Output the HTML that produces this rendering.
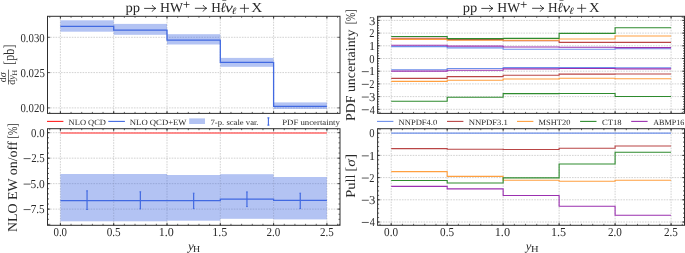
<!DOCTYPE html>
<html><head><meta charset="utf-8"><style>
html,body{margin:0;padding:0;background:#fff;width:685px;height:253px;overflow:hidden;}
svg{display:block;will-change:transform;}
text{font-family:"Liberation Serif", serif;}
svg{text-rendering:geometricPrecision;}
</style></head><body>
<svg width="685" height="253" viewBox="0 0 685 253" font-family='"Liberation Serif", serif' fill="#2a2a2a">
<rect width="685" height="253" fill="#fff"/>
<line x1="60.4" y1="16.3" x2="60.4" y2="113.4" stroke="#b4b4b4" stroke-width="0.6" stroke-dasharray="1.6 1.1"/>
<line x1="113.7" y1="16.3" x2="113.7" y2="113.4" stroke="#b4b4b4" stroke-width="0.6" stroke-dasharray="1.6 1.1"/>
<line x1="167" y1="16.3" x2="167" y2="113.4" stroke="#b4b4b4" stroke-width="0.6" stroke-dasharray="1.6 1.1"/>
<line x1="220.3" y1="16.3" x2="220.3" y2="113.4" stroke="#b4b4b4" stroke-width="0.6" stroke-dasharray="1.6 1.1"/>
<line x1="273.6" y1="16.3" x2="273.6" y2="113.4" stroke="#b4b4b4" stroke-width="0.6" stroke-dasharray="1.6 1.1"/>
<line x1="326.9" y1="16.3" x2="326.9" y2="113.4" stroke="#b4b4b4" stroke-width="0.6" stroke-dasharray="1.6 1.1"/>
<line x1="47.5" y1="37.3" x2="340" y2="37.3" stroke="#b4b4b4" stroke-width="0.6" stroke-dasharray="1.6 1.1"/>
<line x1="47.5" y1="72.6" x2="340" y2="72.6" stroke="#b4b4b4" stroke-width="0.6" stroke-dasharray="1.6 1.1"/>
<line x1="47.5" y1="107.9" x2="340" y2="107.9" stroke="#b4b4b4" stroke-width="0.6" stroke-dasharray="1.6 1.1"/>
<rect x="60.4" y="20.3" width="53.3" height="11.4" fill="#4169e1" fill-opacity="0.4"/>
<rect x="113.7" y="23.9" width="53.3" height="10.9" fill="#4169e1" fill-opacity="0.4"/>
<rect x="167" y="34.2" width="53.3" height="10.3" fill="#4169e1" fill-opacity="0.4"/>
<rect x="220.3" y="57.9" width="53.3" height="8.9" fill="#4169e1" fill-opacity="0.4"/>
<rect x="273.6" y="102.4" width="53.3" height="6.6" fill="#4169e1" fill-opacity="0.4"/>
<polyline points="60.4,26.4 113.7,26.4 113.7,30.2 167,30.2 167,40.1 220.3,40.1 220.3,62.4 273.6,62.4 273.6,106.3 326.9,106.3" fill="none" stroke="#4169e1" stroke-width="1.3" stroke-linejoin="miter" />
<line x1="60.4" y1="113.4" x2="60.4" y2="110.8" stroke="#222" stroke-width="0.7" />
<line x1="60.4" y1="16.3" x2="60.4" y2="18.9" stroke="#222" stroke-width="0.7" />
<line x1="113.7" y1="113.4" x2="113.7" y2="110.8" stroke="#222" stroke-width="0.7" />
<line x1="113.7" y1="16.3" x2="113.7" y2="18.9" stroke="#222" stroke-width="0.7" />
<line x1="167" y1="113.4" x2="167" y2="110.8" stroke="#222" stroke-width="0.7" />
<line x1="167" y1="16.3" x2="167" y2="18.9" stroke="#222" stroke-width="0.7" />
<line x1="220.3" y1="113.4" x2="220.3" y2="110.8" stroke="#222" stroke-width="0.7" />
<line x1="220.3" y1="16.3" x2="220.3" y2="18.9" stroke="#222" stroke-width="0.7" />
<line x1="273.6" y1="113.4" x2="273.6" y2="110.8" stroke="#222" stroke-width="0.7" />
<line x1="273.6" y1="16.3" x2="273.6" y2="18.9" stroke="#222" stroke-width="0.7" />
<line x1="326.9" y1="113.4" x2="326.9" y2="110.8" stroke="#222" stroke-width="0.7" />
<line x1="326.9" y1="16.3" x2="326.9" y2="18.9" stroke="#222" stroke-width="0.7" />
<line x1="49.74" y1="113.4" x2="49.74" y2="111.9" stroke="#222" stroke-width="0.7" />
<line x1="49.74" y1="16.3" x2="49.74" y2="17.8" stroke="#222" stroke-width="0.7" />
<line x1="60.4" y1="113.4" x2="60.4" y2="111.9" stroke="#222" stroke-width="0.7" />
<line x1="60.4" y1="16.3" x2="60.4" y2="17.8" stroke="#222" stroke-width="0.7" />
<line x1="71.06" y1="113.4" x2="71.06" y2="111.9" stroke="#222" stroke-width="0.7" />
<line x1="71.06" y1="16.3" x2="71.06" y2="17.8" stroke="#222" stroke-width="0.7" />
<line x1="81.72" y1="113.4" x2="81.72" y2="111.9" stroke="#222" stroke-width="0.7" />
<line x1="81.72" y1="16.3" x2="81.72" y2="17.8" stroke="#222" stroke-width="0.7" />
<line x1="92.38" y1="113.4" x2="92.38" y2="111.9" stroke="#222" stroke-width="0.7" />
<line x1="92.38" y1="16.3" x2="92.38" y2="17.8" stroke="#222" stroke-width="0.7" />
<line x1="103.04" y1="113.4" x2="103.04" y2="111.9" stroke="#222" stroke-width="0.7" />
<line x1="103.04" y1="16.3" x2="103.04" y2="17.8" stroke="#222" stroke-width="0.7" />
<line x1="113.7" y1="113.4" x2="113.7" y2="111.9" stroke="#222" stroke-width="0.7" />
<line x1="113.7" y1="16.3" x2="113.7" y2="17.8" stroke="#222" stroke-width="0.7" />
<line x1="124.36" y1="113.4" x2="124.36" y2="111.9" stroke="#222" stroke-width="0.7" />
<line x1="124.36" y1="16.3" x2="124.36" y2="17.8" stroke="#222" stroke-width="0.7" />
<line x1="135.02" y1="113.4" x2="135.02" y2="111.9" stroke="#222" stroke-width="0.7" />
<line x1="135.02" y1="16.3" x2="135.02" y2="17.8" stroke="#222" stroke-width="0.7" />
<line x1="145.68" y1="113.4" x2="145.68" y2="111.9" stroke="#222" stroke-width="0.7" />
<line x1="145.68" y1="16.3" x2="145.68" y2="17.8" stroke="#222" stroke-width="0.7" />
<line x1="156.34" y1="113.4" x2="156.34" y2="111.9" stroke="#222" stroke-width="0.7" />
<line x1="156.34" y1="16.3" x2="156.34" y2="17.8" stroke="#222" stroke-width="0.7" />
<line x1="167" y1="113.4" x2="167" y2="111.9" stroke="#222" stroke-width="0.7" />
<line x1="167" y1="16.3" x2="167" y2="17.8" stroke="#222" stroke-width="0.7" />
<line x1="177.66" y1="113.4" x2="177.66" y2="111.9" stroke="#222" stroke-width="0.7" />
<line x1="177.66" y1="16.3" x2="177.66" y2="17.8" stroke="#222" stroke-width="0.7" />
<line x1="188.32" y1="113.4" x2="188.32" y2="111.9" stroke="#222" stroke-width="0.7" />
<line x1="188.32" y1="16.3" x2="188.32" y2="17.8" stroke="#222" stroke-width="0.7" />
<line x1="198.98" y1="113.4" x2="198.98" y2="111.9" stroke="#222" stroke-width="0.7" />
<line x1="198.98" y1="16.3" x2="198.98" y2="17.8" stroke="#222" stroke-width="0.7" />
<line x1="209.64" y1="113.4" x2="209.64" y2="111.9" stroke="#222" stroke-width="0.7" />
<line x1="209.64" y1="16.3" x2="209.64" y2="17.8" stroke="#222" stroke-width="0.7" />
<line x1="220.3" y1="113.4" x2="220.3" y2="111.9" stroke="#222" stroke-width="0.7" />
<line x1="220.3" y1="16.3" x2="220.3" y2="17.8" stroke="#222" stroke-width="0.7" />
<line x1="230.96" y1="113.4" x2="230.96" y2="111.9" stroke="#222" stroke-width="0.7" />
<line x1="230.96" y1="16.3" x2="230.96" y2="17.8" stroke="#222" stroke-width="0.7" />
<line x1="241.62" y1="113.4" x2="241.62" y2="111.9" stroke="#222" stroke-width="0.7" />
<line x1="241.62" y1="16.3" x2="241.62" y2="17.8" stroke="#222" stroke-width="0.7" />
<line x1="252.28" y1="113.4" x2="252.28" y2="111.9" stroke="#222" stroke-width="0.7" />
<line x1="252.28" y1="16.3" x2="252.28" y2="17.8" stroke="#222" stroke-width="0.7" />
<line x1="262.94" y1="113.4" x2="262.94" y2="111.9" stroke="#222" stroke-width="0.7" />
<line x1="262.94" y1="16.3" x2="262.94" y2="17.8" stroke="#222" stroke-width="0.7" />
<line x1="273.6" y1="113.4" x2="273.6" y2="111.9" stroke="#222" stroke-width="0.7" />
<line x1="273.6" y1="16.3" x2="273.6" y2="17.8" stroke="#222" stroke-width="0.7" />
<line x1="284.26" y1="113.4" x2="284.26" y2="111.9" stroke="#222" stroke-width="0.7" />
<line x1="284.26" y1="16.3" x2="284.26" y2="17.8" stroke="#222" stroke-width="0.7" />
<line x1="294.92" y1="113.4" x2="294.92" y2="111.9" stroke="#222" stroke-width="0.7" />
<line x1="294.92" y1="16.3" x2="294.92" y2="17.8" stroke="#222" stroke-width="0.7" />
<line x1="305.58" y1="113.4" x2="305.58" y2="111.9" stroke="#222" stroke-width="0.7" />
<line x1="305.58" y1="16.3" x2="305.58" y2="17.8" stroke="#222" stroke-width="0.7" />
<line x1="316.24" y1="113.4" x2="316.24" y2="111.9" stroke="#222" stroke-width="0.7" />
<line x1="316.24" y1="16.3" x2="316.24" y2="17.8" stroke="#222" stroke-width="0.7" />
<line x1="326.9" y1="113.4" x2="326.9" y2="111.9" stroke="#222" stroke-width="0.7" />
<line x1="326.9" y1="16.3" x2="326.9" y2="17.8" stroke="#222" stroke-width="0.7" />
<line x1="337.56" y1="113.4" x2="337.56" y2="111.9" stroke="#222" stroke-width="0.7" />
<line x1="337.56" y1="16.3" x2="337.56" y2="17.8" stroke="#222" stroke-width="0.7" />
<line x1="47.5" y1="37.3" x2="50.1" y2="37.3" stroke="#222" stroke-width="0.7" />
<line x1="340" y1="37.3" x2="337.4" y2="37.3" stroke="#222" stroke-width="0.7" />
<line x1="47.5" y1="72.6" x2="50.1" y2="72.6" stroke="#222" stroke-width="0.7" />
<line x1="340" y1="72.6" x2="337.4" y2="72.6" stroke="#222" stroke-width="0.7" />
<line x1="47.5" y1="107.9" x2="50.1" y2="107.9" stroke="#222" stroke-width="0.7" />
<line x1="340" y1="107.9" x2="337.4" y2="107.9" stroke="#222" stroke-width="0.7" />
<rect x="47.5" y="16.3" width="292.5" height="97.1" fill="none" stroke="#2e2e2e" stroke-width="1.0"/>
<line x1="60.4" y1="128.7" x2="60.4" y2="225.3" stroke="#b4b4b4" stroke-width="0.6" stroke-dasharray="1.6 1.1"/>
<line x1="113.7" y1="128.7" x2="113.7" y2="225.3" stroke="#b4b4b4" stroke-width="0.6" stroke-dasharray="1.6 1.1"/>
<line x1="167" y1="128.7" x2="167" y2="225.3" stroke="#b4b4b4" stroke-width="0.6" stroke-dasharray="1.6 1.1"/>
<line x1="220.3" y1="128.7" x2="220.3" y2="225.3" stroke="#b4b4b4" stroke-width="0.6" stroke-dasharray="1.6 1.1"/>
<line x1="273.6" y1="128.7" x2="273.6" y2="225.3" stroke="#b4b4b4" stroke-width="0.6" stroke-dasharray="1.6 1.1"/>
<line x1="326.9" y1="128.7" x2="326.9" y2="225.3" stroke="#b4b4b4" stroke-width="0.6" stroke-dasharray="1.6 1.1"/>
<line x1="47.5" y1="132.7" x2="340" y2="132.7" stroke="#b4b4b4" stroke-width="0.6" stroke-dasharray="1.6 1.1"/>
<line x1="47.5" y1="158.17" x2="340" y2="158.17" stroke="#b4b4b4" stroke-width="0.6" stroke-dasharray="1.6 1.1"/>
<line x1="47.5" y1="183.65" x2="340" y2="183.65" stroke="#b4b4b4" stroke-width="0.6" stroke-dasharray="1.6 1.1"/>
<line x1="47.5" y1="209.12" x2="340" y2="209.12" stroke="#b4b4b4" stroke-width="0.6" stroke-dasharray="1.6 1.1"/>
<rect x="60.4" y="174" width="53.3" height="47.3" fill="#4169e1" fill-opacity="0.4"/>
<rect x="113.7" y="174" width="53.3" height="47.3" fill="#4169e1" fill-opacity="0.4"/>
<rect x="167" y="175" width="53.3" height="45.7" fill="#4169e1" fill-opacity="0.4"/>
<rect x="220.3" y="174.2" width="53.3" height="44.6" fill="#4169e1" fill-opacity="0.4"/>
<rect x="273.6" y="177" width="53.3" height="42.4" fill="#4169e1" fill-opacity="0.4"/>
<line x1="60.4" y1="133" x2="326.9" y2="133" stroke="#fff" stroke-width="1.2" />
<line x1="60.4" y1="133" x2="326.9" y2="133" stroke="#ff2020" stroke-width="1.2" />
<polyline points="60.4,200.6 113.7,200.6 113.7,200.6 167,200.6 167,200.6 220.3,200.6 220.3,199.1 273.6,199.1 273.6,200.4 326.9,200.4" fill="none" stroke="#4169e1" stroke-width="1.2" stroke-linejoin="miter" />
<line x1="87.05" y1="190.8" x2="87.05" y2="209.5" stroke="#4169e1" stroke-width="1.2" />
<line x1="86.25" y1="190.8" x2="87.85" y2="190.8" stroke="#4169e1" stroke-width="1" />
<line x1="86.25" y1="209.5" x2="87.85" y2="209.5" stroke="#4169e1" stroke-width="1" />
<line x1="140.35" y1="191.8" x2="140.35" y2="208.9" stroke="#4169e1" stroke-width="1.2" />
<line x1="139.55" y1="191.8" x2="141.15" y2="191.8" stroke="#4169e1" stroke-width="1" />
<line x1="139.55" y1="208.9" x2="141.15" y2="208.9" stroke="#4169e1" stroke-width="1" />
<line x1="193.65" y1="193.2" x2="193.65" y2="208.6" stroke="#4169e1" stroke-width="1.2" />
<line x1="192.85" y1="193.2" x2="194.45" y2="193.2" stroke="#4169e1" stroke-width="1" />
<line x1="192.85" y1="208.6" x2="194.45" y2="208.6" stroke="#4169e1" stroke-width="1" />
<line x1="246.95" y1="191.9" x2="246.95" y2="206.6" stroke="#4169e1" stroke-width="1.2" />
<line x1="246.15" y1="191.9" x2="247.75" y2="191.9" stroke="#4169e1" stroke-width="1" />
<line x1="246.15" y1="206.6" x2="247.75" y2="206.6" stroke="#4169e1" stroke-width="1" />
<line x1="300.25" y1="193.2" x2="300.25" y2="208.6" stroke="#4169e1" stroke-width="1.2" />
<line x1="299.45" y1="193.2" x2="301.05" y2="193.2" stroke="#4169e1" stroke-width="1" />
<line x1="299.45" y1="208.6" x2="301.05" y2="208.6" stroke="#4169e1" stroke-width="1" />
<line x1="60.4" y1="225.3" x2="60.4" y2="222.7" stroke="#222" stroke-width="0.7" />
<line x1="60.4" y1="128.7" x2="60.4" y2="131.3" stroke="#222" stroke-width="0.7" />
<line x1="113.7" y1="225.3" x2="113.7" y2="222.7" stroke="#222" stroke-width="0.7" />
<line x1="113.7" y1="128.7" x2="113.7" y2="131.3" stroke="#222" stroke-width="0.7" />
<line x1="167" y1="225.3" x2="167" y2="222.7" stroke="#222" stroke-width="0.7" />
<line x1="167" y1="128.7" x2="167" y2="131.3" stroke="#222" stroke-width="0.7" />
<line x1="220.3" y1="225.3" x2="220.3" y2="222.7" stroke="#222" stroke-width="0.7" />
<line x1="220.3" y1="128.7" x2="220.3" y2="131.3" stroke="#222" stroke-width="0.7" />
<line x1="273.6" y1="225.3" x2="273.6" y2="222.7" stroke="#222" stroke-width="0.7" />
<line x1="273.6" y1="128.7" x2="273.6" y2="131.3" stroke="#222" stroke-width="0.7" />
<line x1="326.9" y1="225.3" x2="326.9" y2="222.7" stroke="#222" stroke-width="0.7" />
<line x1="326.9" y1="128.7" x2="326.9" y2="131.3" stroke="#222" stroke-width="0.7" />
<line x1="49.74" y1="225.3" x2="49.74" y2="223.8" stroke="#222" stroke-width="0.7" />
<line x1="49.74" y1="128.7" x2="49.74" y2="130.2" stroke="#222" stroke-width="0.7" />
<line x1="60.4" y1="225.3" x2="60.4" y2="223.8" stroke="#222" stroke-width="0.7" />
<line x1="60.4" y1="128.7" x2="60.4" y2="130.2" stroke="#222" stroke-width="0.7" />
<line x1="71.06" y1="225.3" x2="71.06" y2="223.8" stroke="#222" stroke-width="0.7" />
<line x1="71.06" y1="128.7" x2="71.06" y2="130.2" stroke="#222" stroke-width="0.7" />
<line x1="81.72" y1="225.3" x2="81.72" y2="223.8" stroke="#222" stroke-width="0.7" />
<line x1="81.72" y1="128.7" x2="81.72" y2="130.2" stroke="#222" stroke-width="0.7" />
<line x1="92.38" y1="225.3" x2="92.38" y2="223.8" stroke="#222" stroke-width="0.7" />
<line x1="92.38" y1="128.7" x2="92.38" y2="130.2" stroke="#222" stroke-width="0.7" />
<line x1="103.04" y1="225.3" x2="103.04" y2="223.8" stroke="#222" stroke-width="0.7" />
<line x1="103.04" y1="128.7" x2="103.04" y2="130.2" stroke="#222" stroke-width="0.7" />
<line x1="113.7" y1="225.3" x2="113.7" y2="223.8" stroke="#222" stroke-width="0.7" />
<line x1="113.7" y1="128.7" x2="113.7" y2="130.2" stroke="#222" stroke-width="0.7" />
<line x1="124.36" y1="225.3" x2="124.36" y2="223.8" stroke="#222" stroke-width="0.7" />
<line x1="124.36" y1="128.7" x2="124.36" y2="130.2" stroke="#222" stroke-width="0.7" />
<line x1="135.02" y1="225.3" x2="135.02" y2="223.8" stroke="#222" stroke-width="0.7" />
<line x1="135.02" y1="128.7" x2="135.02" y2="130.2" stroke="#222" stroke-width="0.7" />
<line x1="145.68" y1="225.3" x2="145.68" y2="223.8" stroke="#222" stroke-width="0.7" />
<line x1="145.68" y1="128.7" x2="145.68" y2="130.2" stroke="#222" stroke-width="0.7" />
<line x1="156.34" y1="225.3" x2="156.34" y2="223.8" stroke="#222" stroke-width="0.7" />
<line x1="156.34" y1="128.7" x2="156.34" y2="130.2" stroke="#222" stroke-width="0.7" />
<line x1="167" y1="225.3" x2="167" y2="223.8" stroke="#222" stroke-width="0.7" />
<line x1="167" y1="128.7" x2="167" y2="130.2" stroke="#222" stroke-width="0.7" />
<line x1="177.66" y1="225.3" x2="177.66" y2="223.8" stroke="#222" stroke-width="0.7" />
<line x1="177.66" y1="128.7" x2="177.66" y2="130.2" stroke="#222" stroke-width="0.7" />
<line x1="188.32" y1="225.3" x2="188.32" y2="223.8" stroke="#222" stroke-width="0.7" />
<line x1="188.32" y1="128.7" x2="188.32" y2="130.2" stroke="#222" stroke-width="0.7" />
<line x1="198.98" y1="225.3" x2="198.98" y2="223.8" stroke="#222" stroke-width="0.7" />
<line x1="198.98" y1="128.7" x2="198.98" y2="130.2" stroke="#222" stroke-width="0.7" />
<line x1="209.64" y1="225.3" x2="209.64" y2="223.8" stroke="#222" stroke-width="0.7" />
<line x1="209.64" y1="128.7" x2="209.64" y2="130.2" stroke="#222" stroke-width="0.7" />
<line x1="220.3" y1="225.3" x2="220.3" y2="223.8" stroke="#222" stroke-width="0.7" />
<line x1="220.3" y1="128.7" x2="220.3" y2="130.2" stroke="#222" stroke-width="0.7" />
<line x1="230.96" y1="225.3" x2="230.96" y2="223.8" stroke="#222" stroke-width="0.7" />
<line x1="230.96" y1="128.7" x2="230.96" y2="130.2" stroke="#222" stroke-width="0.7" />
<line x1="241.62" y1="225.3" x2="241.62" y2="223.8" stroke="#222" stroke-width="0.7" />
<line x1="241.62" y1="128.7" x2="241.62" y2="130.2" stroke="#222" stroke-width="0.7" />
<line x1="252.28" y1="225.3" x2="252.28" y2="223.8" stroke="#222" stroke-width="0.7" />
<line x1="252.28" y1="128.7" x2="252.28" y2="130.2" stroke="#222" stroke-width="0.7" />
<line x1="262.94" y1="225.3" x2="262.94" y2="223.8" stroke="#222" stroke-width="0.7" />
<line x1="262.94" y1="128.7" x2="262.94" y2="130.2" stroke="#222" stroke-width="0.7" />
<line x1="273.6" y1="225.3" x2="273.6" y2="223.8" stroke="#222" stroke-width="0.7" />
<line x1="273.6" y1="128.7" x2="273.6" y2="130.2" stroke="#222" stroke-width="0.7" />
<line x1="284.26" y1="225.3" x2="284.26" y2="223.8" stroke="#222" stroke-width="0.7" />
<line x1="284.26" y1="128.7" x2="284.26" y2="130.2" stroke="#222" stroke-width="0.7" />
<line x1="294.92" y1="225.3" x2="294.92" y2="223.8" stroke="#222" stroke-width="0.7" />
<line x1="294.92" y1="128.7" x2="294.92" y2="130.2" stroke="#222" stroke-width="0.7" />
<line x1="305.58" y1="225.3" x2="305.58" y2="223.8" stroke="#222" stroke-width="0.7" />
<line x1="305.58" y1="128.7" x2="305.58" y2="130.2" stroke="#222" stroke-width="0.7" />
<line x1="316.24" y1="225.3" x2="316.24" y2="223.8" stroke="#222" stroke-width="0.7" />
<line x1="316.24" y1="128.7" x2="316.24" y2="130.2" stroke="#222" stroke-width="0.7" />
<line x1="326.9" y1="225.3" x2="326.9" y2="223.8" stroke="#222" stroke-width="0.7" />
<line x1="326.9" y1="128.7" x2="326.9" y2="130.2" stroke="#222" stroke-width="0.7" />
<line x1="337.56" y1="225.3" x2="337.56" y2="223.8" stroke="#222" stroke-width="0.7" />
<line x1="337.56" y1="128.7" x2="337.56" y2="130.2" stroke="#222" stroke-width="0.7" />
<line x1="47.5" y1="132.7" x2="50.1" y2="132.7" stroke="#222" stroke-width="0.7" />
<line x1="340" y1="132.7" x2="337.4" y2="132.7" stroke="#222" stroke-width="0.7" />
<line x1="47.5" y1="158.17" x2="50.1" y2="158.17" stroke="#222" stroke-width="0.7" />
<line x1="340" y1="158.17" x2="337.4" y2="158.17" stroke="#222" stroke-width="0.7" />
<line x1="47.5" y1="183.65" x2="50.1" y2="183.65" stroke="#222" stroke-width="0.7" />
<line x1="340" y1="183.65" x2="337.4" y2="183.65" stroke="#222" stroke-width="0.7" />
<line x1="47.5" y1="209.12" x2="50.1" y2="209.12" stroke="#222" stroke-width="0.7" />
<line x1="340" y1="209.12" x2="337.4" y2="209.12" stroke="#222" stroke-width="0.7" />
<line x1="47.5" y1="132.7" x2="49" y2="132.7" stroke="#222" stroke-width="0.7" />
<line x1="340" y1="132.7" x2="338.5" y2="132.7" stroke="#222" stroke-width="0.7" />
<line x1="47.5" y1="137.79" x2="49" y2="137.79" stroke="#222" stroke-width="0.7" />
<line x1="340" y1="137.79" x2="338.5" y2="137.79" stroke="#222" stroke-width="0.7" />
<line x1="47.5" y1="142.89" x2="49" y2="142.89" stroke="#222" stroke-width="0.7" />
<line x1="340" y1="142.89" x2="338.5" y2="142.89" stroke="#222" stroke-width="0.7" />
<line x1="47.5" y1="147.98" x2="49" y2="147.98" stroke="#222" stroke-width="0.7" />
<line x1="340" y1="147.98" x2="338.5" y2="147.98" stroke="#222" stroke-width="0.7" />
<line x1="47.5" y1="153.08" x2="49" y2="153.08" stroke="#222" stroke-width="0.7" />
<line x1="340" y1="153.08" x2="338.5" y2="153.08" stroke="#222" stroke-width="0.7" />
<line x1="47.5" y1="158.17" x2="49" y2="158.17" stroke="#222" stroke-width="0.7" />
<line x1="340" y1="158.17" x2="338.5" y2="158.17" stroke="#222" stroke-width="0.7" />
<line x1="47.5" y1="163.27" x2="49" y2="163.27" stroke="#222" stroke-width="0.7" />
<line x1="340" y1="163.27" x2="338.5" y2="163.27" stroke="#222" stroke-width="0.7" />
<line x1="47.5" y1="168.36" x2="49" y2="168.36" stroke="#222" stroke-width="0.7" />
<line x1="340" y1="168.36" x2="338.5" y2="168.36" stroke="#222" stroke-width="0.7" />
<line x1="47.5" y1="173.46" x2="49" y2="173.46" stroke="#222" stroke-width="0.7" />
<line x1="340" y1="173.46" x2="338.5" y2="173.46" stroke="#222" stroke-width="0.7" />
<line x1="47.5" y1="178.55" x2="49" y2="178.55" stroke="#222" stroke-width="0.7" />
<line x1="340" y1="178.55" x2="338.5" y2="178.55" stroke="#222" stroke-width="0.7" />
<line x1="47.5" y1="183.65" x2="49" y2="183.65" stroke="#222" stroke-width="0.7" />
<line x1="340" y1="183.65" x2="338.5" y2="183.65" stroke="#222" stroke-width="0.7" />
<line x1="47.5" y1="188.74" x2="49" y2="188.74" stroke="#222" stroke-width="0.7" />
<line x1="340" y1="188.74" x2="338.5" y2="188.74" stroke="#222" stroke-width="0.7" />
<line x1="47.5" y1="193.84" x2="49" y2="193.84" stroke="#222" stroke-width="0.7" />
<line x1="340" y1="193.84" x2="338.5" y2="193.84" stroke="#222" stroke-width="0.7" />
<line x1="47.5" y1="198.94" x2="49" y2="198.94" stroke="#222" stroke-width="0.7" />
<line x1="340" y1="198.94" x2="338.5" y2="198.94" stroke="#222" stroke-width="0.7" />
<line x1="47.5" y1="204.03" x2="49" y2="204.03" stroke="#222" stroke-width="0.7" />
<line x1="340" y1="204.03" x2="338.5" y2="204.03" stroke="#222" stroke-width="0.7" />
<line x1="47.5" y1="209.12" x2="49" y2="209.12" stroke="#222" stroke-width="0.7" />
<line x1="340" y1="209.12" x2="338.5" y2="209.12" stroke="#222" stroke-width="0.7" />
<line x1="47.5" y1="214.22" x2="49" y2="214.22" stroke="#222" stroke-width="0.7" />
<line x1="340" y1="214.22" x2="338.5" y2="214.22" stroke="#222" stroke-width="0.7" />
<line x1="47.5" y1="219.31" x2="49" y2="219.31" stroke="#222" stroke-width="0.7" />
<line x1="340" y1="219.31" x2="338.5" y2="219.31" stroke="#222" stroke-width="0.7" />
<line x1="47.5" y1="224.41" x2="49" y2="224.41" stroke="#222" stroke-width="0.7" />
<line x1="340" y1="224.41" x2="338.5" y2="224.41" stroke="#222" stroke-width="0.7" />
<rect x="47.5" y="128.7" width="292.5" height="96.6" fill="none" stroke="#2e2e2e" stroke-width="1.0"/>
<line x1="391.2" y1="16.3" x2="391.2" y2="113.4" stroke="#b4b4b4" stroke-width="0.6" stroke-dasharray="1.6 1.1"/>
<line x1="447.18" y1="16.3" x2="447.18" y2="113.4" stroke="#b4b4b4" stroke-width="0.6" stroke-dasharray="1.6 1.1"/>
<line x1="503.15" y1="16.3" x2="503.15" y2="113.4" stroke="#b4b4b4" stroke-width="0.6" stroke-dasharray="1.6 1.1"/>
<line x1="559.12" y1="16.3" x2="559.12" y2="113.4" stroke="#b4b4b4" stroke-width="0.6" stroke-dasharray="1.6 1.1"/>
<line x1="615.1" y1="16.3" x2="615.1" y2="113.4" stroke="#b4b4b4" stroke-width="0.6" stroke-dasharray="1.6 1.1"/>
<line x1="671.08" y1="16.3" x2="671.08" y2="113.4" stroke="#b4b4b4" stroke-width="0.6" stroke-dasharray="1.6 1.1"/>
<line x1="377.6" y1="20.4" x2="684.5" y2="20.4" stroke="#b4b4b4" stroke-width="0.6" stroke-dasharray="1.6 1.1"/>
<line x1="377.6" y1="33.1" x2="684.5" y2="33.1" stroke="#b4b4b4" stroke-width="0.6" stroke-dasharray="1.6 1.1"/>
<line x1="377.6" y1="45.8" x2="684.5" y2="45.8" stroke="#b4b4b4" stroke-width="0.6" stroke-dasharray="1.6 1.1"/>
<line x1="377.6" y1="58.5" x2="684.5" y2="58.5" stroke="#b4b4b4" stroke-width="0.6" stroke-dasharray="1.6 1.1"/>
<line x1="377.6" y1="71.2" x2="684.5" y2="71.2" stroke="#b4b4b4" stroke-width="0.6" stroke-dasharray="1.6 1.1"/>
<line x1="377.6" y1="83.9" x2="684.5" y2="83.9" stroke="#b4b4b4" stroke-width="0.6" stroke-dasharray="1.6 1.1"/>
<line x1="377.6" y1="96.6" x2="684.5" y2="96.6" stroke="#b4b4b4" stroke-width="0.6" stroke-dasharray="1.6 1.1"/>
<line x1="377.6" y1="109.3" x2="684.5" y2="109.3" stroke="#b4b4b4" stroke-width="0.6" stroke-dasharray="1.6 1.1"/>
<polyline points="391.2,46.6 447.18,46.6 447.18,47.9 503.15,47.9 503.15,49.3 559.12,49.3 559.12,49.3 615.1,49.3 615.1,48.7 671.08,48.7" fill="none" stroke="#6d8fea" stroke-width="1.1" stroke-linejoin="miter" />
<polyline points="391.2,69.7 447.18,69.7 447.18,68.5 503.15,68.5 503.15,67.6 559.12,67.6 559.12,67.6 615.1,67.6 615.1,67.7 671.08,67.7" fill="none" stroke="#6d8fea" stroke-width="1.1" stroke-linejoin="miter" />
<polyline points="391.2,38.3 447.18,38.3 447.18,39.6 503.15,39.6 503.15,40.8 559.12,40.8 559.12,42.4 615.1,42.4 615.1,42.4 671.08,42.4" fill="none" stroke="#b94545" stroke-width="1.1" stroke-linejoin="miter" />
<polyline points="391.2,78.4 447.18,78.4 447.18,76.6 503.15,76.6 503.15,75.2 559.12,75.2 559.12,74.1 615.1,74.1 615.1,74 671.08,74" fill="none" stroke="#b94545" stroke-width="1.1" stroke-linejoin="miter" />
<polyline points="391.2,39.4 447.18,39.4 447.18,40.2 503.15,40.2 503.15,40.3 559.12,40.3 559.12,39 615.1,39 615.1,36 671.08,36" fill="none" stroke="#ffa040" stroke-width="1.1" stroke-linejoin="miter" />
<polyline points="391.2,81.4 447.18,81.4 447.18,80.2 503.15,80.2 503.15,79 559.12,79 559.12,78.3 615.1,78.3 615.1,78.7 671.08,78.7" fill="none" stroke="#ffa040" stroke-width="1.1" stroke-linejoin="miter" />
<polyline points="391.2,36.5 447.18,36.5 447.18,38.6 503.15,38.6 503.15,38.4 559.12,38.4 559.12,33.4 615.1,33.4 615.1,27.8 671.08,27.8" fill="none" stroke="#2e8b2e" stroke-width="1.1" stroke-linejoin="miter" />
<polyline points="391.2,101.3 447.18,101.3 447.18,97.3 503.15,97.3 503.15,93.6 559.12,93.6 559.12,93.5 615.1,93.5 615.1,96.5 671.08,96.5" fill="none" stroke="#2e8b2e" stroke-width="1.1" stroke-linejoin="miter" />
<polyline points="391.2,45.3 447.18,45.3 447.18,46.1 503.15,46.1 503.15,47 559.12,47 559.12,47.3 615.1,47.3 615.1,47.6 671.08,47.6" fill="none" stroke="#9b30b0" stroke-width="1.1" stroke-linejoin="miter" />
<polyline points="391.2,71.1 447.18,71.1 447.18,70.2 503.15,70.2 503.15,68.9 559.12,68.9 559.12,68.5 615.1,68.5 615.1,68.9 671.08,68.9" fill="none" stroke="#9b30b0" stroke-width="1.1" stroke-linejoin="miter" />
<line x1="391.2" y1="113.4" x2="391.2" y2="110.8" stroke="#222" stroke-width="0.7" />
<line x1="391.2" y1="16.3" x2="391.2" y2="18.9" stroke="#222" stroke-width="0.7" />
<line x1="447.18" y1="113.4" x2="447.18" y2="110.8" stroke="#222" stroke-width="0.7" />
<line x1="447.18" y1="16.3" x2="447.18" y2="18.9" stroke="#222" stroke-width="0.7" />
<line x1="503.15" y1="113.4" x2="503.15" y2="110.8" stroke="#222" stroke-width="0.7" />
<line x1="503.15" y1="16.3" x2="503.15" y2="18.9" stroke="#222" stroke-width="0.7" />
<line x1="559.12" y1="113.4" x2="559.12" y2="110.8" stroke="#222" stroke-width="0.7" />
<line x1="559.12" y1="16.3" x2="559.12" y2="18.9" stroke="#222" stroke-width="0.7" />
<line x1="615.1" y1="113.4" x2="615.1" y2="110.8" stroke="#222" stroke-width="0.7" />
<line x1="615.1" y1="16.3" x2="615.1" y2="18.9" stroke="#222" stroke-width="0.7" />
<line x1="671.08" y1="113.4" x2="671.08" y2="110.8" stroke="#222" stroke-width="0.7" />
<line x1="671.08" y1="16.3" x2="671.08" y2="18.9" stroke="#222" stroke-width="0.7" />
<line x1="380" y1="113.4" x2="380" y2="111.9" stroke="#222" stroke-width="0.7" />
<line x1="380" y1="16.3" x2="380" y2="17.8" stroke="#222" stroke-width="0.7" />
<line x1="391.2" y1="113.4" x2="391.2" y2="111.9" stroke="#222" stroke-width="0.7" />
<line x1="391.2" y1="16.3" x2="391.2" y2="17.8" stroke="#222" stroke-width="0.7" />
<line x1="402.39" y1="113.4" x2="402.39" y2="111.9" stroke="#222" stroke-width="0.7" />
<line x1="402.39" y1="16.3" x2="402.39" y2="17.8" stroke="#222" stroke-width="0.7" />
<line x1="413.59" y1="113.4" x2="413.59" y2="111.9" stroke="#222" stroke-width="0.7" />
<line x1="413.59" y1="16.3" x2="413.59" y2="17.8" stroke="#222" stroke-width="0.7" />
<line x1="424.78" y1="113.4" x2="424.78" y2="111.9" stroke="#222" stroke-width="0.7" />
<line x1="424.78" y1="16.3" x2="424.78" y2="17.8" stroke="#222" stroke-width="0.7" />
<line x1="435.98" y1="113.4" x2="435.98" y2="111.9" stroke="#222" stroke-width="0.7" />
<line x1="435.98" y1="16.3" x2="435.98" y2="17.8" stroke="#222" stroke-width="0.7" />
<line x1="447.18" y1="113.4" x2="447.18" y2="111.9" stroke="#222" stroke-width="0.7" />
<line x1="447.18" y1="16.3" x2="447.18" y2="17.8" stroke="#222" stroke-width="0.7" />
<line x1="458.37" y1="113.4" x2="458.37" y2="111.9" stroke="#222" stroke-width="0.7" />
<line x1="458.37" y1="16.3" x2="458.37" y2="17.8" stroke="#222" stroke-width="0.7" />
<line x1="469.56" y1="113.4" x2="469.56" y2="111.9" stroke="#222" stroke-width="0.7" />
<line x1="469.56" y1="16.3" x2="469.56" y2="17.8" stroke="#222" stroke-width="0.7" />
<line x1="480.76" y1="113.4" x2="480.76" y2="111.9" stroke="#222" stroke-width="0.7" />
<line x1="480.76" y1="16.3" x2="480.76" y2="17.8" stroke="#222" stroke-width="0.7" />
<line x1="491.95" y1="113.4" x2="491.95" y2="111.9" stroke="#222" stroke-width="0.7" />
<line x1="491.95" y1="16.3" x2="491.95" y2="17.8" stroke="#222" stroke-width="0.7" />
<line x1="503.15" y1="113.4" x2="503.15" y2="111.9" stroke="#222" stroke-width="0.7" />
<line x1="503.15" y1="16.3" x2="503.15" y2="17.8" stroke="#222" stroke-width="0.7" />
<line x1="514.35" y1="113.4" x2="514.35" y2="111.9" stroke="#222" stroke-width="0.7" />
<line x1="514.35" y1="16.3" x2="514.35" y2="17.8" stroke="#222" stroke-width="0.7" />
<line x1="525.54" y1="113.4" x2="525.54" y2="111.9" stroke="#222" stroke-width="0.7" />
<line x1="525.54" y1="16.3" x2="525.54" y2="17.8" stroke="#222" stroke-width="0.7" />
<line x1="536.74" y1="113.4" x2="536.74" y2="111.9" stroke="#222" stroke-width="0.7" />
<line x1="536.74" y1="16.3" x2="536.74" y2="17.8" stroke="#222" stroke-width="0.7" />
<line x1="547.93" y1="113.4" x2="547.93" y2="111.9" stroke="#222" stroke-width="0.7" />
<line x1="547.93" y1="16.3" x2="547.93" y2="17.8" stroke="#222" stroke-width="0.7" />
<line x1="559.12" y1="113.4" x2="559.12" y2="111.9" stroke="#222" stroke-width="0.7" />
<line x1="559.12" y1="16.3" x2="559.12" y2="17.8" stroke="#222" stroke-width="0.7" />
<line x1="570.32" y1="113.4" x2="570.32" y2="111.9" stroke="#222" stroke-width="0.7" />
<line x1="570.32" y1="16.3" x2="570.32" y2="17.8" stroke="#222" stroke-width="0.7" />
<line x1="581.51" y1="113.4" x2="581.51" y2="111.9" stroke="#222" stroke-width="0.7" />
<line x1="581.51" y1="16.3" x2="581.51" y2="17.8" stroke="#222" stroke-width="0.7" />
<line x1="592.71" y1="113.4" x2="592.71" y2="111.9" stroke="#222" stroke-width="0.7" />
<line x1="592.71" y1="16.3" x2="592.71" y2="17.8" stroke="#222" stroke-width="0.7" />
<line x1="603.9" y1="113.4" x2="603.9" y2="111.9" stroke="#222" stroke-width="0.7" />
<line x1="603.9" y1="16.3" x2="603.9" y2="17.8" stroke="#222" stroke-width="0.7" />
<line x1="615.1" y1="113.4" x2="615.1" y2="111.9" stroke="#222" stroke-width="0.7" />
<line x1="615.1" y1="16.3" x2="615.1" y2="17.8" stroke="#222" stroke-width="0.7" />
<line x1="626.3" y1="113.4" x2="626.3" y2="111.9" stroke="#222" stroke-width="0.7" />
<line x1="626.3" y1="16.3" x2="626.3" y2="17.8" stroke="#222" stroke-width="0.7" />
<line x1="637.49" y1="113.4" x2="637.49" y2="111.9" stroke="#222" stroke-width="0.7" />
<line x1="637.49" y1="16.3" x2="637.49" y2="17.8" stroke="#222" stroke-width="0.7" />
<line x1="648.68" y1="113.4" x2="648.68" y2="111.9" stroke="#222" stroke-width="0.7" />
<line x1="648.68" y1="16.3" x2="648.68" y2="17.8" stroke="#222" stroke-width="0.7" />
<line x1="659.88" y1="113.4" x2="659.88" y2="111.9" stroke="#222" stroke-width="0.7" />
<line x1="659.88" y1="16.3" x2="659.88" y2="17.8" stroke="#222" stroke-width="0.7" />
<line x1="671.08" y1="113.4" x2="671.08" y2="111.9" stroke="#222" stroke-width="0.7" />
<line x1="671.08" y1="16.3" x2="671.08" y2="17.8" stroke="#222" stroke-width="0.7" />
<line x1="682.27" y1="113.4" x2="682.27" y2="111.9" stroke="#222" stroke-width="0.7" />
<line x1="682.27" y1="16.3" x2="682.27" y2="17.8" stroke="#222" stroke-width="0.7" />
<line x1="377.6" y1="20.4" x2="380.2" y2="20.4" stroke="#222" stroke-width="0.7" />
<line x1="684.5" y1="20.4" x2="681.9" y2="20.4" stroke="#222" stroke-width="0.7" />
<line x1="377.6" y1="33.1" x2="380.2" y2="33.1" stroke="#222" stroke-width="0.7" />
<line x1="684.5" y1="33.1" x2="681.9" y2="33.1" stroke="#222" stroke-width="0.7" />
<line x1="377.6" y1="45.8" x2="380.2" y2="45.8" stroke="#222" stroke-width="0.7" />
<line x1="684.5" y1="45.8" x2="681.9" y2="45.8" stroke="#222" stroke-width="0.7" />
<line x1="377.6" y1="58.5" x2="380.2" y2="58.5" stroke="#222" stroke-width="0.7" />
<line x1="684.5" y1="58.5" x2="681.9" y2="58.5" stroke="#222" stroke-width="0.7" />
<line x1="377.6" y1="71.2" x2="380.2" y2="71.2" stroke="#222" stroke-width="0.7" />
<line x1="684.5" y1="71.2" x2="681.9" y2="71.2" stroke="#222" stroke-width="0.7" />
<line x1="377.6" y1="83.9" x2="380.2" y2="83.9" stroke="#222" stroke-width="0.7" />
<line x1="684.5" y1="83.9" x2="681.9" y2="83.9" stroke="#222" stroke-width="0.7" />
<line x1="377.6" y1="96.6" x2="380.2" y2="96.6" stroke="#222" stroke-width="0.7" />
<line x1="684.5" y1="96.6" x2="681.9" y2="96.6" stroke="#222" stroke-width="0.7" />
<line x1="377.6" y1="109.3" x2="380.2" y2="109.3" stroke="#222" stroke-width="0.7" />
<line x1="684.5" y1="109.3" x2="681.9" y2="109.3" stroke="#222" stroke-width="0.7" />
<line x1="377.6" y1="17.86" x2="379.1" y2="17.86" stroke="#222" stroke-width="0.7" />
<line x1="684.5" y1="17.86" x2="683" y2="17.86" stroke="#222" stroke-width="0.7" />
<line x1="377.6" y1="20.4" x2="379.1" y2="20.4" stroke="#222" stroke-width="0.7" />
<line x1="684.5" y1="20.4" x2="683" y2="20.4" stroke="#222" stroke-width="0.7" />
<line x1="377.6" y1="22.94" x2="379.1" y2="22.94" stroke="#222" stroke-width="0.7" />
<line x1="684.5" y1="22.94" x2="683" y2="22.94" stroke="#222" stroke-width="0.7" />
<line x1="377.6" y1="25.48" x2="379.1" y2="25.48" stroke="#222" stroke-width="0.7" />
<line x1="684.5" y1="25.48" x2="683" y2="25.48" stroke="#222" stroke-width="0.7" />
<line x1="377.6" y1="28.02" x2="379.1" y2="28.02" stroke="#222" stroke-width="0.7" />
<line x1="684.5" y1="28.02" x2="683" y2="28.02" stroke="#222" stroke-width="0.7" />
<line x1="377.6" y1="30.56" x2="379.1" y2="30.56" stroke="#222" stroke-width="0.7" />
<line x1="684.5" y1="30.56" x2="683" y2="30.56" stroke="#222" stroke-width="0.7" />
<line x1="377.6" y1="33.1" x2="379.1" y2="33.1" stroke="#222" stroke-width="0.7" />
<line x1="684.5" y1="33.1" x2="683" y2="33.1" stroke="#222" stroke-width="0.7" />
<line x1="377.6" y1="35.64" x2="379.1" y2="35.64" stroke="#222" stroke-width="0.7" />
<line x1="684.5" y1="35.64" x2="683" y2="35.64" stroke="#222" stroke-width="0.7" />
<line x1="377.6" y1="38.18" x2="379.1" y2="38.18" stroke="#222" stroke-width="0.7" />
<line x1="684.5" y1="38.18" x2="683" y2="38.18" stroke="#222" stroke-width="0.7" />
<line x1="377.6" y1="40.72" x2="379.1" y2="40.72" stroke="#222" stroke-width="0.7" />
<line x1="684.5" y1="40.72" x2="683" y2="40.72" stroke="#222" stroke-width="0.7" />
<line x1="377.6" y1="43.26" x2="379.1" y2="43.26" stroke="#222" stroke-width="0.7" />
<line x1="684.5" y1="43.26" x2="683" y2="43.26" stroke="#222" stroke-width="0.7" />
<line x1="377.6" y1="45.8" x2="379.1" y2="45.8" stroke="#222" stroke-width="0.7" />
<line x1="684.5" y1="45.8" x2="683" y2="45.8" stroke="#222" stroke-width="0.7" />
<line x1="377.6" y1="48.34" x2="379.1" y2="48.34" stroke="#222" stroke-width="0.7" />
<line x1="684.5" y1="48.34" x2="683" y2="48.34" stroke="#222" stroke-width="0.7" />
<line x1="377.6" y1="50.88" x2="379.1" y2="50.88" stroke="#222" stroke-width="0.7" />
<line x1="684.5" y1="50.88" x2="683" y2="50.88" stroke="#222" stroke-width="0.7" />
<line x1="377.6" y1="53.42" x2="379.1" y2="53.42" stroke="#222" stroke-width="0.7" />
<line x1="684.5" y1="53.42" x2="683" y2="53.42" stroke="#222" stroke-width="0.7" />
<line x1="377.6" y1="55.96" x2="379.1" y2="55.96" stroke="#222" stroke-width="0.7" />
<line x1="684.5" y1="55.96" x2="683" y2="55.96" stroke="#222" stroke-width="0.7" />
<line x1="377.6" y1="58.5" x2="379.1" y2="58.5" stroke="#222" stroke-width="0.7" />
<line x1="684.5" y1="58.5" x2="683" y2="58.5" stroke="#222" stroke-width="0.7" />
<line x1="377.6" y1="61.04" x2="379.1" y2="61.04" stroke="#222" stroke-width="0.7" />
<line x1="684.5" y1="61.04" x2="683" y2="61.04" stroke="#222" stroke-width="0.7" />
<line x1="377.6" y1="63.58" x2="379.1" y2="63.58" stroke="#222" stroke-width="0.7" />
<line x1="684.5" y1="63.58" x2="683" y2="63.58" stroke="#222" stroke-width="0.7" />
<line x1="377.6" y1="66.12" x2="379.1" y2="66.12" stroke="#222" stroke-width="0.7" />
<line x1="684.5" y1="66.12" x2="683" y2="66.12" stroke="#222" stroke-width="0.7" />
<line x1="377.6" y1="68.66" x2="379.1" y2="68.66" stroke="#222" stroke-width="0.7" />
<line x1="684.5" y1="68.66" x2="683" y2="68.66" stroke="#222" stroke-width="0.7" />
<line x1="377.6" y1="71.2" x2="379.1" y2="71.2" stroke="#222" stroke-width="0.7" />
<line x1="684.5" y1="71.2" x2="683" y2="71.2" stroke="#222" stroke-width="0.7" />
<line x1="377.6" y1="73.74" x2="379.1" y2="73.74" stroke="#222" stroke-width="0.7" />
<line x1="684.5" y1="73.74" x2="683" y2="73.74" stroke="#222" stroke-width="0.7" />
<line x1="377.6" y1="76.28" x2="379.1" y2="76.28" stroke="#222" stroke-width="0.7" />
<line x1="684.5" y1="76.28" x2="683" y2="76.28" stroke="#222" stroke-width="0.7" />
<line x1="377.6" y1="78.82" x2="379.1" y2="78.82" stroke="#222" stroke-width="0.7" />
<line x1="684.5" y1="78.82" x2="683" y2="78.82" stroke="#222" stroke-width="0.7" />
<line x1="377.6" y1="81.36" x2="379.1" y2="81.36" stroke="#222" stroke-width="0.7" />
<line x1="684.5" y1="81.36" x2="683" y2="81.36" stroke="#222" stroke-width="0.7" />
<line x1="377.6" y1="83.9" x2="379.1" y2="83.9" stroke="#222" stroke-width="0.7" />
<line x1="684.5" y1="83.9" x2="683" y2="83.9" stroke="#222" stroke-width="0.7" />
<line x1="377.6" y1="86.44" x2="379.1" y2="86.44" stroke="#222" stroke-width="0.7" />
<line x1="684.5" y1="86.44" x2="683" y2="86.44" stroke="#222" stroke-width="0.7" />
<line x1="377.6" y1="88.98" x2="379.1" y2="88.98" stroke="#222" stroke-width="0.7" />
<line x1="684.5" y1="88.98" x2="683" y2="88.98" stroke="#222" stroke-width="0.7" />
<line x1="377.6" y1="91.52" x2="379.1" y2="91.52" stroke="#222" stroke-width="0.7" />
<line x1="684.5" y1="91.52" x2="683" y2="91.52" stroke="#222" stroke-width="0.7" />
<line x1="377.6" y1="94.06" x2="379.1" y2="94.06" stroke="#222" stroke-width="0.7" />
<line x1="684.5" y1="94.06" x2="683" y2="94.06" stroke="#222" stroke-width="0.7" />
<line x1="377.6" y1="96.6" x2="379.1" y2="96.6" stroke="#222" stroke-width="0.7" />
<line x1="684.5" y1="96.6" x2="683" y2="96.6" stroke="#222" stroke-width="0.7" />
<line x1="377.6" y1="99.14" x2="379.1" y2="99.14" stroke="#222" stroke-width="0.7" />
<line x1="684.5" y1="99.14" x2="683" y2="99.14" stroke="#222" stroke-width="0.7" />
<line x1="377.6" y1="101.68" x2="379.1" y2="101.68" stroke="#222" stroke-width="0.7" />
<line x1="684.5" y1="101.68" x2="683" y2="101.68" stroke="#222" stroke-width="0.7" />
<line x1="377.6" y1="104.22" x2="379.1" y2="104.22" stroke="#222" stroke-width="0.7" />
<line x1="684.5" y1="104.22" x2="683" y2="104.22" stroke="#222" stroke-width="0.7" />
<line x1="377.6" y1="106.76" x2="379.1" y2="106.76" stroke="#222" stroke-width="0.7" />
<line x1="684.5" y1="106.76" x2="683" y2="106.76" stroke="#222" stroke-width="0.7" />
<line x1="377.6" y1="109.3" x2="379.1" y2="109.3" stroke="#222" stroke-width="0.7" />
<line x1="684.5" y1="109.3" x2="683" y2="109.3" stroke="#222" stroke-width="0.7" />
<line x1="377.6" y1="111.84" x2="379.1" y2="111.84" stroke="#222" stroke-width="0.7" />
<line x1="684.5" y1="111.84" x2="683" y2="111.84" stroke="#222" stroke-width="0.7" />
<rect x="377.6" y="16.3" width="306.9" height="97.1" fill="none" stroke="#2e2e2e" stroke-width="1.0"/>
<line x1="391.2" y1="128.7" x2="391.2" y2="225.3" stroke="#b4b4b4" stroke-width="0.6" stroke-dasharray="1.6 1.1"/>
<line x1="447.18" y1="128.7" x2="447.18" y2="225.3" stroke="#b4b4b4" stroke-width="0.6" stroke-dasharray="1.6 1.1"/>
<line x1="503.15" y1="128.7" x2="503.15" y2="225.3" stroke="#b4b4b4" stroke-width="0.6" stroke-dasharray="1.6 1.1"/>
<line x1="559.12" y1="128.7" x2="559.12" y2="225.3" stroke="#b4b4b4" stroke-width="0.6" stroke-dasharray="1.6 1.1"/>
<line x1="615.1" y1="128.7" x2="615.1" y2="225.3" stroke="#b4b4b4" stroke-width="0.6" stroke-dasharray="1.6 1.1"/>
<line x1="671.08" y1="128.7" x2="671.08" y2="225.3" stroke="#b4b4b4" stroke-width="0.6" stroke-dasharray="1.6 1.1"/>
<line x1="377.6" y1="133.2" x2="684.5" y2="133.2" stroke="#b4b4b4" stroke-width="0.6" stroke-dasharray="1.6 1.1"/>
<line x1="377.6" y1="155.4" x2="684.5" y2="155.4" stroke="#b4b4b4" stroke-width="0.6" stroke-dasharray="1.6 1.1"/>
<line x1="377.6" y1="177.6" x2="684.5" y2="177.6" stroke="#b4b4b4" stroke-width="0.6" stroke-dasharray="1.6 1.1"/>
<line x1="377.6" y1="199.8" x2="684.5" y2="199.8" stroke="#b4b4b4" stroke-width="0.6" stroke-dasharray="1.6 1.1"/>
<line x1="377.6" y1="222" x2="684.5" y2="222" stroke="#b4b4b4" stroke-width="0.6" stroke-dasharray="1.6 1.1"/>
<polyline points="391.2,133.1 447.18,133.1 447.18,133.1 503.15,133.1 503.15,133.1 559.12,133.1 559.12,133.1 615.1,133.1 615.1,133.1 671.08,133.1" fill="none" stroke="#6d8fea" stroke-width="1.1" stroke-linejoin="miter" />
<polyline points="391.2,148.6 447.18,148.6 447.18,149.3 503.15,149.3 503.15,149.5 559.12,149.5 559.12,148.3 615.1,148.3 615.1,146 671.08,146" fill="none" stroke="#b94545" stroke-width="1.1" stroke-linejoin="miter" />
<polyline points="391.2,171.6 447.18,171.6 447.18,176.4 503.15,176.4 503.15,180.2 559.12,180.2 559.12,181.3 615.1,181.3 615.1,180.2 671.08,180.2" fill="none" stroke="#ffa040" stroke-width="1.1" stroke-linejoin="miter" />
<polyline points="391.2,180.5 447.18,180.5 447.18,183 503.15,183 503.15,177.9 559.12,177.9 559.12,164 615.1,164 615.1,152.3 671.08,152.3" fill="none" stroke="#2e8b2e" stroke-width="1.1" stroke-linejoin="miter" />
<polyline points="391.2,186.4 447.18,186.4 447.18,188.9 503.15,188.9 503.15,195.5 559.12,195.5 559.12,206.2 615.1,206.2 615.1,215.3 671.08,215.3" fill="none" stroke="#9b30b0" stroke-width="1.1" stroke-linejoin="miter" />
<line x1="391.2" y1="225.3" x2="391.2" y2="222.7" stroke="#222" stroke-width="0.7" />
<line x1="391.2" y1="128.7" x2="391.2" y2="131.3" stroke="#222" stroke-width="0.7" />
<line x1="447.18" y1="225.3" x2="447.18" y2="222.7" stroke="#222" stroke-width="0.7" />
<line x1="447.18" y1="128.7" x2="447.18" y2="131.3" stroke="#222" stroke-width="0.7" />
<line x1="503.15" y1="225.3" x2="503.15" y2="222.7" stroke="#222" stroke-width="0.7" />
<line x1="503.15" y1="128.7" x2="503.15" y2="131.3" stroke="#222" stroke-width="0.7" />
<line x1="559.12" y1="225.3" x2="559.12" y2="222.7" stroke="#222" stroke-width="0.7" />
<line x1="559.12" y1="128.7" x2="559.12" y2="131.3" stroke="#222" stroke-width="0.7" />
<line x1="615.1" y1="225.3" x2="615.1" y2="222.7" stroke="#222" stroke-width="0.7" />
<line x1="615.1" y1="128.7" x2="615.1" y2="131.3" stroke="#222" stroke-width="0.7" />
<line x1="671.08" y1="225.3" x2="671.08" y2="222.7" stroke="#222" stroke-width="0.7" />
<line x1="671.08" y1="128.7" x2="671.08" y2="131.3" stroke="#222" stroke-width="0.7" />
<line x1="380" y1="225.3" x2="380" y2="223.8" stroke="#222" stroke-width="0.7" />
<line x1="380" y1="128.7" x2="380" y2="130.2" stroke="#222" stroke-width="0.7" />
<line x1="391.2" y1="225.3" x2="391.2" y2="223.8" stroke="#222" stroke-width="0.7" />
<line x1="391.2" y1="128.7" x2="391.2" y2="130.2" stroke="#222" stroke-width="0.7" />
<line x1="402.39" y1="225.3" x2="402.39" y2="223.8" stroke="#222" stroke-width="0.7" />
<line x1="402.39" y1="128.7" x2="402.39" y2="130.2" stroke="#222" stroke-width="0.7" />
<line x1="413.59" y1="225.3" x2="413.59" y2="223.8" stroke="#222" stroke-width="0.7" />
<line x1="413.59" y1="128.7" x2="413.59" y2="130.2" stroke="#222" stroke-width="0.7" />
<line x1="424.78" y1="225.3" x2="424.78" y2="223.8" stroke="#222" stroke-width="0.7" />
<line x1="424.78" y1="128.7" x2="424.78" y2="130.2" stroke="#222" stroke-width="0.7" />
<line x1="435.98" y1="225.3" x2="435.98" y2="223.8" stroke="#222" stroke-width="0.7" />
<line x1="435.98" y1="128.7" x2="435.98" y2="130.2" stroke="#222" stroke-width="0.7" />
<line x1="447.18" y1="225.3" x2="447.18" y2="223.8" stroke="#222" stroke-width="0.7" />
<line x1="447.18" y1="128.7" x2="447.18" y2="130.2" stroke="#222" stroke-width="0.7" />
<line x1="458.37" y1="225.3" x2="458.37" y2="223.8" stroke="#222" stroke-width="0.7" />
<line x1="458.37" y1="128.7" x2="458.37" y2="130.2" stroke="#222" stroke-width="0.7" />
<line x1="469.56" y1="225.3" x2="469.56" y2="223.8" stroke="#222" stroke-width="0.7" />
<line x1="469.56" y1="128.7" x2="469.56" y2="130.2" stroke="#222" stroke-width="0.7" />
<line x1="480.76" y1="225.3" x2="480.76" y2="223.8" stroke="#222" stroke-width="0.7" />
<line x1="480.76" y1="128.7" x2="480.76" y2="130.2" stroke="#222" stroke-width="0.7" />
<line x1="491.95" y1="225.3" x2="491.95" y2="223.8" stroke="#222" stroke-width="0.7" />
<line x1="491.95" y1="128.7" x2="491.95" y2="130.2" stroke="#222" stroke-width="0.7" />
<line x1="503.15" y1="225.3" x2="503.15" y2="223.8" stroke="#222" stroke-width="0.7" />
<line x1="503.15" y1="128.7" x2="503.15" y2="130.2" stroke="#222" stroke-width="0.7" />
<line x1="514.35" y1="225.3" x2="514.35" y2="223.8" stroke="#222" stroke-width="0.7" />
<line x1="514.35" y1="128.7" x2="514.35" y2="130.2" stroke="#222" stroke-width="0.7" />
<line x1="525.54" y1="225.3" x2="525.54" y2="223.8" stroke="#222" stroke-width="0.7" />
<line x1="525.54" y1="128.7" x2="525.54" y2="130.2" stroke="#222" stroke-width="0.7" />
<line x1="536.74" y1="225.3" x2="536.74" y2="223.8" stroke="#222" stroke-width="0.7" />
<line x1="536.74" y1="128.7" x2="536.74" y2="130.2" stroke="#222" stroke-width="0.7" />
<line x1="547.93" y1="225.3" x2="547.93" y2="223.8" stroke="#222" stroke-width="0.7" />
<line x1="547.93" y1="128.7" x2="547.93" y2="130.2" stroke="#222" stroke-width="0.7" />
<line x1="559.12" y1="225.3" x2="559.12" y2="223.8" stroke="#222" stroke-width="0.7" />
<line x1="559.12" y1="128.7" x2="559.12" y2="130.2" stroke="#222" stroke-width="0.7" />
<line x1="570.32" y1="225.3" x2="570.32" y2="223.8" stroke="#222" stroke-width="0.7" />
<line x1="570.32" y1="128.7" x2="570.32" y2="130.2" stroke="#222" stroke-width="0.7" />
<line x1="581.51" y1="225.3" x2="581.51" y2="223.8" stroke="#222" stroke-width="0.7" />
<line x1="581.51" y1="128.7" x2="581.51" y2="130.2" stroke="#222" stroke-width="0.7" />
<line x1="592.71" y1="225.3" x2="592.71" y2="223.8" stroke="#222" stroke-width="0.7" />
<line x1="592.71" y1="128.7" x2="592.71" y2="130.2" stroke="#222" stroke-width="0.7" />
<line x1="603.9" y1="225.3" x2="603.9" y2="223.8" stroke="#222" stroke-width="0.7" />
<line x1="603.9" y1="128.7" x2="603.9" y2="130.2" stroke="#222" stroke-width="0.7" />
<line x1="615.1" y1="225.3" x2="615.1" y2="223.8" stroke="#222" stroke-width="0.7" />
<line x1="615.1" y1="128.7" x2="615.1" y2="130.2" stroke="#222" stroke-width="0.7" />
<line x1="626.3" y1="225.3" x2="626.3" y2="223.8" stroke="#222" stroke-width="0.7" />
<line x1="626.3" y1="128.7" x2="626.3" y2="130.2" stroke="#222" stroke-width="0.7" />
<line x1="637.49" y1="225.3" x2="637.49" y2="223.8" stroke="#222" stroke-width="0.7" />
<line x1="637.49" y1="128.7" x2="637.49" y2="130.2" stroke="#222" stroke-width="0.7" />
<line x1="648.68" y1="225.3" x2="648.68" y2="223.8" stroke="#222" stroke-width="0.7" />
<line x1="648.68" y1="128.7" x2="648.68" y2="130.2" stroke="#222" stroke-width="0.7" />
<line x1="659.88" y1="225.3" x2="659.88" y2="223.8" stroke="#222" stroke-width="0.7" />
<line x1="659.88" y1="128.7" x2="659.88" y2="130.2" stroke="#222" stroke-width="0.7" />
<line x1="671.08" y1="225.3" x2="671.08" y2="223.8" stroke="#222" stroke-width="0.7" />
<line x1="671.08" y1="128.7" x2="671.08" y2="130.2" stroke="#222" stroke-width="0.7" />
<line x1="682.27" y1="225.3" x2="682.27" y2="223.8" stroke="#222" stroke-width="0.7" />
<line x1="682.27" y1="128.7" x2="682.27" y2="130.2" stroke="#222" stroke-width="0.7" />
<line x1="377.6" y1="133.2" x2="380.2" y2="133.2" stroke="#222" stroke-width="0.7" />
<line x1="684.5" y1="133.2" x2="681.9" y2="133.2" stroke="#222" stroke-width="0.7" />
<line x1="377.6" y1="155.4" x2="380.2" y2="155.4" stroke="#222" stroke-width="0.7" />
<line x1="684.5" y1="155.4" x2="681.9" y2="155.4" stroke="#222" stroke-width="0.7" />
<line x1="377.6" y1="177.6" x2="380.2" y2="177.6" stroke="#222" stroke-width="0.7" />
<line x1="684.5" y1="177.6" x2="681.9" y2="177.6" stroke="#222" stroke-width="0.7" />
<line x1="377.6" y1="199.8" x2="380.2" y2="199.8" stroke="#222" stroke-width="0.7" />
<line x1="684.5" y1="199.8" x2="681.9" y2="199.8" stroke="#222" stroke-width="0.7" />
<line x1="377.6" y1="222" x2="380.2" y2="222" stroke="#222" stroke-width="0.7" />
<line x1="684.5" y1="222" x2="681.9" y2="222" stroke="#222" stroke-width="0.7" />
<line x1="377.6" y1="128.76" x2="379.1" y2="128.76" stroke="#222" stroke-width="0.7" />
<line x1="684.5" y1="128.76" x2="683" y2="128.76" stroke="#222" stroke-width="0.7" />
<line x1="377.6" y1="133.2" x2="379.1" y2="133.2" stroke="#222" stroke-width="0.7" />
<line x1="684.5" y1="133.2" x2="683" y2="133.2" stroke="#222" stroke-width="0.7" />
<line x1="377.6" y1="137.64" x2="379.1" y2="137.64" stroke="#222" stroke-width="0.7" />
<line x1="684.5" y1="137.64" x2="683" y2="137.64" stroke="#222" stroke-width="0.7" />
<line x1="377.6" y1="142.08" x2="379.1" y2="142.08" stroke="#222" stroke-width="0.7" />
<line x1="684.5" y1="142.08" x2="683" y2="142.08" stroke="#222" stroke-width="0.7" />
<line x1="377.6" y1="146.52" x2="379.1" y2="146.52" stroke="#222" stroke-width="0.7" />
<line x1="684.5" y1="146.52" x2="683" y2="146.52" stroke="#222" stroke-width="0.7" />
<line x1="377.6" y1="150.96" x2="379.1" y2="150.96" stroke="#222" stroke-width="0.7" />
<line x1="684.5" y1="150.96" x2="683" y2="150.96" stroke="#222" stroke-width="0.7" />
<line x1="377.6" y1="155.4" x2="379.1" y2="155.4" stroke="#222" stroke-width="0.7" />
<line x1="684.5" y1="155.4" x2="683" y2="155.4" stroke="#222" stroke-width="0.7" />
<line x1="377.6" y1="159.84" x2="379.1" y2="159.84" stroke="#222" stroke-width="0.7" />
<line x1="684.5" y1="159.84" x2="683" y2="159.84" stroke="#222" stroke-width="0.7" />
<line x1="377.6" y1="164.28" x2="379.1" y2="164.28" stroke="#222" stroke-width="0.7" />
<line x1="684.5" y1="164.28" x2="683" y2="164.28" stroke="#222" stroke-width="0.7" />
<line x1="377.6" y1="168.72" x2="379.1" y2="168.72" stroke="#222" stroke-width="0.7" />
<line x1="684.5" y1="168.72" x2="683" y2="168.72" stroke="#222" stroke-width="0.7" />
<line x1="377.6" y1="173.16" x2="379.1" y2="173.16" stroke="#222" stroke-width="0.7" />
<line x1="684.5" y1="173.16" x2="683" y2="173.16" stroke="#222" stroke-width="0.7" />
<line x1="377.6" y1="177.6" x2="379.1" y2="177.6" stroke="#222" stroke-width="0.7" />
<line x1="684.5" y1="177.6" x2="683" y2="177.6" stroke="#222" stroke-width="0.7" />
<line x1="377.6" y1="182.04" x2="379.1" y2="182.04" stroke="#222" stroke-width="0.7" />
<line x1="684.5" y1="182.04" x2="683" y2="182.04" stroke="#222" stroke-width="0.7" />
<line x1="377.6" y1="186.48" x2="379.1" y2="186.48" stroke="#222" stroke-width="0.7" />
<line x1="684.5" y1="186.48" x2="683" y2="186.48" stroke="#222" stroke-width="0.7" />
<line x1="377.6" y1="190.92" x2="379.1" y2="190.92" stroke="#222" stroke-width="0.7" />
<line x1="684.5" y1="190.92" x2="683" y2="190.92" stroke="#222" stroke-width="0.7" />
<line x1="377.6" y1="195.36" x2="379.1" y2="195.36" stroke="#222" stroke-width="0.7" />
<line x1="684.5" y1="195.36" x2="683" y2="195.36" stroke="#222" stroke-width="0.7" />
<line x1="377.6" y1="199.8" x2="379.1" y2="199.8" stroke="#222" stroke-width="0.7" />
<line x1="684.5" y1="199.8" x2="683" y2="199.8" stroke="#222" stroke-width="0.7" />
<line x1="377.6" y1="204.24" x2="379.1" y2="204.24" stroke="#222" stroke-width="0.7" />
<line x1="684.5" y1="204.24" x2="683" y2="204.24" stroke="#222" stroke-width="0.7" />
<line x1="377.6" y1="208.68" x2="379.1" y2="208.68" stroke="#222" stroke-width="0.7" />
<line x1="684.5" y1="208.68" x2="683" y2="208.68" stroke="#222" stroke-width="0.7" />
<line x1="377.6" y1="213.12" x2="379.1" y2="213.12" stroke="#222" stroke-width="0.7" />
<line x1="684.5" y1="213.12" x2="683" y2="213.12" stroke="#222" stroke-width="0.7" />
<line x1="377.6" y1="217.56" x2="379.1" y2="217.56" stroke="#222" stroke-width="0.7" />
<line x1="684.5" y1="217.56" x2="683" y2="217.56" stroke="#222" stroke-width="0.7" />
<line x1="377.6" y1="222" x2="379.1" y2="222" stroke="#222" stroke-width="0.7" />
<line x1="684.5" y1="222" x2="683" y2="222" stroke="#222" stroke-width="0.7" />
<rect x="377.6" y="128.7" width="306.9" height="96.6" fill="none" stroke="#2e2e2e" stroke-width="1.0"/>
<text x="20.50" y="41.50" font-size="12.2" textLength="24.17" lengthAdjust="spacingAndGlyphs">0.030</text>
<text x="20.50" y="76.80" font-size="12.2" textLength="24.28" lengthAdjust="spacingAndGlyphs">0.025</text>
<text x="20.50" y="112.10" font-size="12.2" textLength="24.17" lengthAdjust="spacingAndGlyphs">0.020</text>
<text x="31.10" y="136.90" font-size="12.2" textLength="13.47" lengthAdjust="spacingAndGlyphs">0.0</text>
<text x="31.14" y="162.37" font-size="12.2" textLength="13.61" lengthAdjust="spacingAndGlyphs">2.5</text>
<text x="30.51" y="187.85" font-size="12.2" textLength="14.27" lengthAdjust="spacingAndGlyphs">5.0</text>
<text x="30.64" y="213.32" font-size="12.2" textLength="14.03" lengthAdjust="spacingAndGlyphs">7.5</text>
<text x="369.12" y="24.60" font-size="12.2" textLength="6.36" lengthAdjust="spacingAndGlyphs">3</text>
<text x="369.35" y="37.30" font-size="12.2" textLength="5.22" lengthAdjust="spacingAndGlyphs">2</text>
<text x="368.88" y="50.00" font-size="12.2" textLength="6.10" lengthAdjust="spacingAndGlyphs">1</text>
<text x="369.18" y="62.70" font-size="12.2" textLength="5.30" lengthAdjust="spacingAndGlyphs">0</text>
<text x="368.88" y="75.40" font-size="12.2" textLength="6.10" lengthAdjust="spacingAndGlyphs">1</text>
<text x="369.35" y="88.10" font-size="12.2" textLength="5.22" lengthAdjust="spacingAndGlyphs">2</text>
<text x="369.12" y="100.80" font-size="12.2" textLength="6.36" lengthAdjust="spacingAndGlyphs">3</text>
<text x="369.78" y="113.50" font-size="12.2" textLength="5.10" lengthAdjust="spacingAndGlyphs">4</text>
<text x="369.18" y="137.40" font-size="12.2" textLength="5.30" lengthAdjust="spacingAndGlyphs">0</text>
<text x="368.88" y="159.60" font-size="12.2" textLength="6.10" lengthAdjust="spacingAndGlyphs">1</text>
<text x="369.35" y="181.80" font-size="12.2" textLength="5.22" lengthAdjust="spacingAndGlyphs">2</text>
<text x="369.12" y="204.00" font-size="12.2" textLength="6.36" lengthAdjust="spacingAndGlyphs">3</text>
<text x="369.78" y="226.20" font-size="12.2" textLength="5.10" lengthAdjust="spacingAndGlyphs">4</text>
<text x="53.48" y="236.40" font-size="12.2" textLength="13.55" lengthAdjust="spacingAndGlyphs">0.0</text>
<text x="384.12" y="236.40" font-size="12.2" textLength="14.02" lengthAdjust="spacingAndGlyphs">0.0</text>
<text x="106.68" y="236.40" font-size="12.2" textLength="14.00" lengthAdjust="spacingAndGlyphs">0.5</text>
<text x="440.09" y="236.40" font-size="12.2" textLength="14.00" lengthAdjust="spacingAndGlyphs">0.5</text>
<text x="158.82" y="236.40" font-size="12.2" textLength="15.04" lengthAdjust="spacingAndGlyphs">1.0</text>
<text x="494.69" y="236.40" font-size="12.2" textLength="15.37" lengthAdjust="spacingAndGlyphs">1.0</text>
<text x="212.16" y="236.40" font-size="12.2" textLength="15.06" lengthAdjust="spacingAndGlyphs">1.5</text>
<text x="551.08" y="236.40" font-size="12.2" textLength="15.06" lengthAdjust="spacingAndGlyphs">1.5</text>
<text x="266.50" y="236.40" font-size="12.2" textLength="13.85" lengthAdjust="spacingAndGlyphs">2.0</text>
<text x="607.96" y="236.40" font-size="12.2" textLength="13.92" lengthAdjust="spacingAndGlyphs">2.0</text>
<text x="320.01" y="236.40" font-size="12.2" textLength="13.72" lengthAdjust="spacingAndGlyphs">2.5</text>
<text x="664.00" y="236.40" font-size="12.2" textLength="13.88" lengthAdjust="spacingAndGlyphs">2.5</text>
<text x="188.03" y="250.10" font-size="12.2" font-style="italic" textLength="5.86" lengthAdjust="spacingAndGlyphs">y</text>
<text x="193.13" y="252.20" font-size="9.0" textLength="7.09" lengthAdjust="spacingAndGlyphs">H</text>
<text x="525.88" y="250.10" font-size="12.2" font-style="italic" textLength="5.62" lengthAdjust="spacingAndGlyphs">y</text>
<text x="530.95" y="252.20" font-size="9.0" textLength="7.56" lengthAdjust="spacingAndGlyphs">H</text>
<text x="125.45" y="11.50" font-size="13.8" textLength="14.59" lengthAdjust="spacingAndGlyphs">pp</text>
<text x="160.14" y="11.70" font-size="13.8" textLength="23.06" lengthAdjust="spacingAndGlyphs">HW</text>
<text x="211.26" y="11.70" font-size="13.8" textLength="9.56" lengthAdjust="spacingAndGlyphs">H</text>
<text x="220.14" y="11.70" font-size="13.8" font-style="italic" textLength="5.69" lengthAdjust="spacingAndGlyphs">ℓ</text>
<text x="224.94" y="11.70" font-size="13.8" font-style="italic" textLength="7.92" lengthAdjust="spacingAndGlyphs">ν</text>
<text x="231.64" y="13.50" font-size="9.6" font-style="italic" textLength="4.84" lengthAdjust="spacingAndGlyphs">ℓ</text>
<text x="251.29" y="11.70" font-size="13.8" textLength="11.08" lengthAdjust="spacingAndGlyphs">X</text>
<text x="462.70" y="11.50" font-size="13.8" textLength="14.49" lengthAdjust="spacingAndGlyphs">pp</text>
<text x="497.25" y="11.70" font-size="13.8" textLength="22.84" lengthAdjust="spacingAndGlyphs">HW</text>
<text x="548.09" y="11.70" font-size="13.8" textLength="9.58" lengthAdjust="spacingAndGlyphs">H</text>
<text x="557.33" y="11.70" font-size="13.8" font-style="italic" textLength="5.54" lengthAdjust="spacingAndGlyphs">ℓ</text>
<text x="562.18" y="11.70" font-size="13.8" font-style="italic" textLength="7.90" lengthAdjust="spacingAndGlyphs">ν</text>
<text x="569.12" y="13.50" font-size="9.6" font-style="italic" textLength="4.73" lengthAdjust="spacingAndGlyphs">ℓ</text>
<text x="588.92" y="11.70" font-size="13.8" textLength="10.53" lengthAdjust="spacingAndGlyphs">X</text>
<text x="68.63" y="124.80" font-size="8.1" textLength="37.36" lengthAdjust="spacingAndGlyphs">NLO QCD</text>
<text x="129.87" y="124.80" font-size="8.1" textLength="56.66" lengthAdjust="spacingAndGlyphs">NLO QCD+EW</text>
<text x="210.56" y="124.80" font-size="8.1" textLength="47.99" lengthAdjust="spacingAndGlyphs">7-p. scale var.</text>
<text x="282.21" y="124.80" font-size="8.1" textLength="57.63" lengthAdjust="spacingAndGlyphs">PDF uncertainty</text>
<text x="398.62" y="124.80" font-size="8.1" textLength="38.67" lengthAdjust="spacingAndGlyphs">NNPDF4.0</text>
<text x="468.66" y="124.80" font-size="8.1" textLength="39.31" lengthAdjust="spacingAndGlyphs">NNPDF3.1</text>
<text x="538.63" y="124.80" font-size="8.1" textLength="31.74" lengthAdjust="spacingAndGlyphs">MSHT20</text>
<text x="601.90" y="124.80" font-size="8.1" textLength="19.62" lengthAdjust="spacingAndGlyphs">CT18</text>
<text x="653.22" y="124.80" font-size="8.1" textLength="31.08" lengthAdjust="spacingAndGlyphs">ABMP16</text>
<text transform="translate(16.60,232.06) rotate(-90)" font-size="13.6" textLength="90.66" lengthAdjust="spacingAndGlyphs">NLO EW on/off</text>
<text transform="translate(16.60,138.40) rotate(-90)" font-size="13.6" textLength="15.00" lengthAdjust="spacingAndGlyphs">[%]</text>
<text transform="translate(355.10,121.06) rotate(-90)" font-size="13.6" textLength="91.46" lengthAdjust="spacingAndGlyphs">PDF uncertainty</text>
<text transform="translate(355.10,24.19) rotate(-90)" font-size="13.6" textLength="14.69" lengthAdjust="spacingAndGlyphs">[%]</text>
<text transform="translate(355.10,197.76) rotate(-90)" font-size="13.6" textLength="23.23" lengthAdjust="spacingAndGlyphs">Pull</text>
<text transform="translate(355.10,171.79) rotate(-90)" font-size="13.6" textLength="17.79" lengthAdjust="spacingAndGlyphs">[<tspan font-style="italic">σ</tspan>]</text>
<text transform="translate(14.00,64.70) rotate(-90)" font-size="15.0" textLength="20.10" lengthAdjust="spacingAndGlyphs">[pb]</text>
<text transform="translate(6.10,82.14) rotate(-90)" font-size="10.0" textLength="9.90" lengthAdjust="spacingAndGlyphs">d<tspan font-style="italic">σ</tspan></text>
<text transform="translate(15.40,84.74) rotate(-90)" font-size="10.0" textLength="9.52" lengthAdjust="spacingAndGlyphs">d<tspan font-style="italic">y</tspan></text>
<text transform="translate(16.90,75.67) rotate(-90)" font-size="7.0" textLength="5.94" lengthAdjust="spacingAndGlyphs">H</text>
<path d="M144.1,8.4 H155.8 M152.1,5.1 Q153.6,7.7 155.8,8.4 Q153.6,9.1 152.1,11.7" fill="none" stroke="#222" stroke-width="0.85"/>
<path d="M194.9,8.3 H206.7 M203,5 Q204.5,7.6 206.7,8.3 Q204.5,9 203,11.6" fill="none" stroke="#222" stroke-width="0.85"/>
<path d="M183.5,4.5 H189.5 M186.5,1.6 V7.6" fill="none" stroke="#222" stroke-width="0.75"/>
<line x1="222.3" y1="0.35" x2="226.3" y2="0.35" stroke="#333" stroke-width="0.7" />
<path d="M239.9,8.3 H249 M244.45,4.0 V12.8" fill="none" stroke="#222" stroke-width="0.8"/>
<path d="M481.3,8.4 H493 M489.3,5.1 Q490.8,7.7 493,8.4 Q490.8,9.1 489.3,11.7" fill="none" stroke="#222" stroke-width="0.85"/>
<path d="M532.1,8.3 H543.9 M540.2,5 Q541.7,7.6 543.9,8.3 Q541.7,9 540.2,11.6" fill="none" stroke="#222" stroke-width="0.85"/>
<path d="M520.7,4.5 H526.7 M523.7,1.6 V7.6" fill="none" stroke="#222" stroke-width="0.75"/>
<line x1="559.5" y1="0.35" x2="563.5" y2="0.35" stroke="#333" stroke-width="0.7" />
<path d="M577.1,8.3 H586.2 M581.65,4.0 V12.8" fill="none" stroke="#222" stroke-width="0.8"/>
<line x1="23.6" y1="158.62" x2="30.6" y2="158.62" stroke="#222" stroke-width="0.75" />
<line x1="23.6" y1="184.1" x2="30.6" y2="184.1" stroke="#222" stroke-width="0.75" />
<line x1="23.6" y1="209.57" x2="30.6" y2="209.57" stroke="#222" stroke-width="0.75" />
<line x1="361.8" y1="71.65" x2="368.8" y2="71.65" stroke="#222" stroke-width="0.75" />
<line x1="361.8" y1="84.35" x2="368.8" y2="84.35" stroke="#222" stroke-width="0.75" />
<line x1="361.8" y1="97.05" x2="368.8" y2="97.05" stroke="#222" stroke-width="0.75" />
<line x1="361.8" y1="109.75" x2="368.8" y2="109.75" stroke="#222" stroke-width="0.75" />
<line x1="361.8" y1="155.85" x2="368.8" y2="155.85" stroke="#222" stroke-width="0.75" />
<line x1="361.8" y1="178.05" x2="368.8" y2="178.05" stroke="#222" stroke-width="0.75" />
<line x1="361.8" y1="200.25" x2="368.8" y2="200.25" stroke="#222" stroke-width="0.75" />
<line x1="361.8" y1="222.45" x2="368.8" y2="222.45" stroke="#222" stroke-width="0.75" />
<line x1="8.5" y1="69.6" x2="8.5" y2="84.5" stroke="#333" stroke-width="0.7" />
<line x1="47" y1="121.4" x2="63.4" y2="121.4" stroke="#ff2020" stroke-width="1.1" />
<line x1="108.3" y1="121.4" x2="124.9" y2="121.4" stroke="#4169e1" stroke-width="1.1" />
<rect x="189.2" y="118.4" width="15.8" height="5.6" fill="#4169e1" fill-opacity="0.4"/>
<line x1="268.4" y1="117.6" x2="268.4" y2="125.4" stroke="#4169e1" stroke-width="1.1" />
<line x1="267.3" y1="117.9" x2="269.5" y2="117.9" stroke="#4169e1" stroke-width="0.9" />
<line x1="267.3" y1="125.1" x2="269.5" y2="125.1" stroke="#4169e1" stroke-width="0.9" />
<line x1="377" y1="121.4" x2="393.4" y2="121.4" stroke="#6d8fea" stroke-width="1.1" />
<line x1="447" y1="121.4" x2="463.4" y2="121.4" stroke="#b94545" stroke-width="1.1" />
<line x1="517" y1="121.4" x2="533.4" y2="121.4" stroke="#ffa040" stroke-width="1.1" />
<line x1="580.1" y1="121.4" x2="596.5" y2="121.4" stroke="#2e8b2e" stroke-width="1.1" />
<line x1="631.2" y1="121.4" x2="647.6" y2="121.4" stroke="#9b30b0" stroke-width="1.1" />
</svg>
</body></html>
